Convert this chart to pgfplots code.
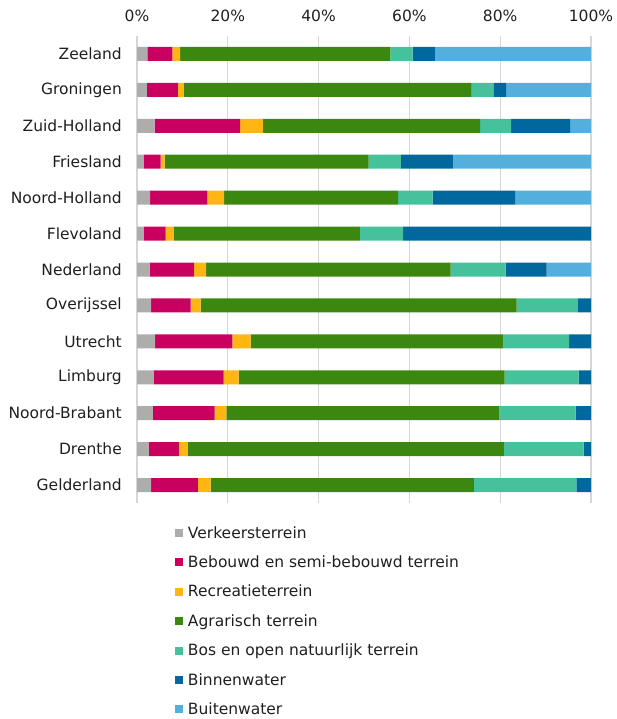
\documentclass[border=0pt]{standalone}
\usepackage{fontspec}
\setmainfont{DejaVu Sans}
\usepackage{pgfplots}
\usepackage{pgfplotstable}
\pgfplotsset{compat=1.18}
\definecolor{cVerk}{HTML}{AFACAC}
\definecolor{cBeb}{HTML}{C90060}
\definecolor{cRec}{HTML}{FFB612}
\definecolor{cAgr}{HTML}{3C8710}
\definecolor{cBos}{HTML}{45C29C}
\definecolor{cBin}{HTML}{00689D}
\definecolor{cBui}{HTML}{53AFDB}
\pgfplotstableread{
y verk beb rec agr bos binnen buiten
0 2.3 5.5 1.7 46.3 4.9 5.0 34.3
1 2.2 6.8 1.3 63.4 4.8 2.8 18.7
2 3.9 18.8 5.0 47.9 6.8 13.0 4.6
3 1.5 3.7 0.9 44.9 7.1 11.5 30.4
4 2.9 12.6 3.7 38.3 7.6 18.2 16.7
5 1.5 4.8 1.8 41.0 9.5 41.4 0
6 2.8 9.8 2.6 53.9 12.1 9.0 9.8
7 3.1 8.7 2.2 69.6 13.5 2.9 0
8 4.0 17.0 4.0 55.7 14.5 4.8 0
9 3.7 15.4 3.3 58.6 16.3 2.7 0
10 3.5 13.6 2.6 60.1 16.8 3.4 0
11 2.6 6.6 2.0 69.6 17.6 1.6 0
12 3.1 10.3 2.8 58.0 22.6 3.2 0
}\data
\begin{document}
\begin{tikzpicture}
\useasboundingbox (0,0) rectangle (617pt,719pt);
\begin{axis}[
  at={(137pt,216pt)}, anchor=south west,
  scale only axis, width=454pt, height=467pt,
  xbar stacked, bar width=14pt,
  xmin=0, xmax=100, ymin=-0.5, ymax=12.5, y dir=reverse,
  xtick={0,20,40,60,80,100},
  xticklabels={0\%,20\%,40\%,60\%,80\%,100\%},
  xticklabel pos=top,
  ytick={0,...,12},
  yticklabels={Zeeland,Groningen,Zuid-Holland,Friesland,Noord-Holland,Flevoland,Nederland,Overijssel,Utrecht,Limburg,Noord-Brabant,Drenthe,Gelderland},
  xmajorgrids, ymajorgrids=false,
  major grid style={draw=black!16, line width=1.2pt},
  axis line style={draw=none}, major tick length=0pt,
  tick label style={font=\fontsize{15.5}{18}\selectfont, text=black!88},
  xticklabel style={anchor=base, inner sep=0pt, yshift=14pt},
  yticklabel style={anchor=east, inner sep=0pt, xshift=-15pt},
  legend cell align=left,
  legend style={at={(axis description cs:0.0837,-0.0514)}, anchor=north west,
    draw=none, fill=none, inner sep=0pt, outer sep=0pt,
    font=\fontsize{15.5}{18}\selectfont, text=black!88,
    nodes={inner sep=0pt, text height=11pt, text depth=1pt},
    row sep=17.4pt, column sep=5pt},
  legend image code/.code={\fill[#1] (0pt,-4pt) rectangle (8pt,4pt);},
]
\addplot[fill=cVerk, draw=none] table[x=verk, y=y] {\data};
\addplot[fill=cBeb, draw=none] table[x=beb, y=y] {\data};
\addplot[fill=cRec, draw=none] table[x=rec, y=y] {\data};
\addplot[fill=cAgr, draw=none] table[x=agr, y=y] {\data};
\addplot[fill=cBos, draw=none] table[x=bos, y=y] {\data};
\addplot[fill=cBin, draw=none] table[x=binnen, y=y] {\data};
\addplot[fill=cBui, draw=none] table[x=buiten, y=y] {\data};
\legend{Verkeersterrein, Bebouwd en semi-bebouwd terrein, Recreatieterrein, Agrarisch terrein, Bos en open natuurlijk terrein, Binnenwater, Buitenwater}
\end{axis}
\end{tikzpicture}
\end{document}
